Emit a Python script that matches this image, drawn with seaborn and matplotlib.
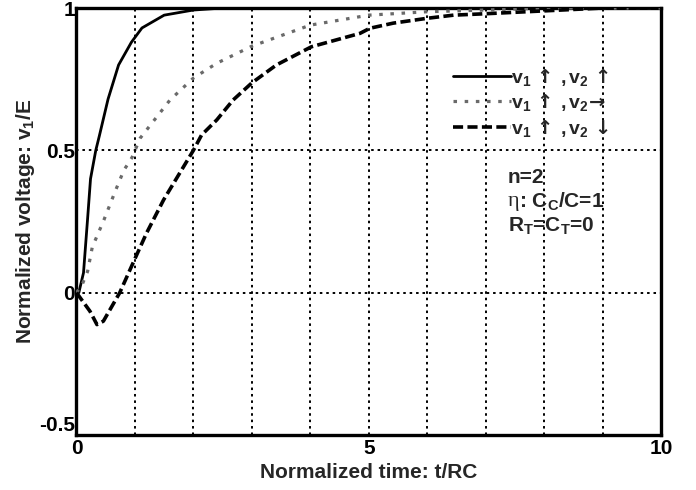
import matplotlib
matplotlib.use("Agg")
import matplotlib.pyplot as plt
from matplotlib.ticker import MultipleLocator, FixedLocator
from matplotlib.font_manager import FontProperties
import seaborn as sns
import pandas as pd

# Step responses of v1 for three polarities of v2 (n=2, Cc/C=1, RT=CT=0)
t_same = [0, 0.04, 0.12, 0.19, 0.24, 0.33, 0.39, 0.54, 0.72, 0.94, 1.12, 1.5, 2.0, 2.5, 3.0, 10]
v_same = [0, 0.0, 0.07, 0.26, 0.40, 0.50, 0.55, 0.68, 0.80, 0.88, 0.93, 0.975, 0.993, 1.0, 1.0, 1.0]

t_quiet = [0, 0.1, 0.19, 0.27, 0.47, 0.67, 0.81, 0.95, 1.09, 1.6, 2.0, 2.4, 3.0, 4.0, 5.0, 6.0, 7.0, 8.0, 10]
v_quiet = [0, 0.03, 0.075, 0.16, 0.256, 0.36, 0.43, 0.475, 0.543, 0.677, 0.754, 0.806, 0.866, 0.94,
           0.975, 0.987, 0.993, 1.0, 1.0]

t_opp = [0, 0.23, 0.35, 0.46, 0.74, 1.03, 1.2, 1.49, 2.0, 2.14, 2.4, 2.68, 3.0, 3.42, 4.02, 4.85,
         5.02, 5.42, 6.0, 6.45, 7.0, 8.0, 9.0, 10]
v_opp = [0, -0.065, -0.112, -0.1, 0.0, 0.133, 0.21, 0.326, 0.5, 0.554, 0.607, 0.677, 0.737, 0.8,
         0.864, 0.911, 0.929, 0.947, 0.964, 0.975, 0.98, 0.99, 1.0, 1.0]

# v1/v2 in math text (bold Liberation Sans), arrows from DejaVu Sans Bold
labels = ["$v_1$ \u2191 $,v_2$ \u2191",
          "$v_1$ \u2191 $,v_2$\u2192",
          "$v_1$ \u2191 $,v_2$ \u2193"]

x_ticks = [0, 5, 10]
y_ticks = [-0.5, 0, 0.5, 1]
y_ticklabels = ["-0.5", "0", "0.5", "1"]

sns.set_style("white")
plt.rcParams["font.family"] = ["Liberation Sans", "DejaVu Sans"]
plt.rcParams["font.weight"] = "bold"
plt.rcParams["mathtext.fontset"] = "custom"
plt.rcParams["mathtext.rm"] = "Liberation Sans:bold"
plt.rcParams["mathtext.it"] = "Liberation Sans:bold"
plt.rcParams["mathtext.bf"] = "Liberation Sans:bold"
plt.rcParams["mathtext.default"] = "rm"

fig = plt.figure(figsize=(6.96, 4.9), dpi=100)
ax = fig.add_axes([0.1099, 0.1122, 0.8398, 0.8714])

df_same = pd.DataFrame({"t": t_same, "v": v_same})
df_quiet = pd.DataFrame({"t": t_quiet, "v": v_quiet})
df_opp = pd.DataFrame({"t": t_opp, "v": v_opp})

sns.lineplot(data=df_same, x="t", y="v", ax=ax, color="black", lw=2.0,
             label=labels[0], zorder=5)
sns.lineplot(data=df_quiet, x="t", y="v", ax=ax, color="#6a6a6a", lw=2.3,
             label=labels[1], zorder=5)
sns.lineplot(data=df_opp, x="t", y="v", ax=ax, color="black", lw=2.6,
             label=labels[2], zorder=5)
ax.lines[1].set_dashes([1.1, 2.4])
ax.lines[2].set_dashes([2.8, 1.2])

ax.set_xlim(0, 10)
ax.set_ylim(-0.5, 1)
ax.xaxis.set_major_locator(FixedLocator(x_ticks))
ax.xaxis.set_minor_locator(MultipleLocator(1))
ax.yaxis.set_major_locator(FixedLocator(y_ticks))
ax.set_yticklabels(y_ticklabels)

grid_kw = dict(color="black", lw=1.4, linestyle=(0, (1.3, 2.0)))
ax.grid(True, which="major", axis="both", **grid_kw)
ax.grid(True, which="minor", axis="x", **grid_kw)
ax.set_axisbelow(True)

for s in ax.spines.values():
    s.set_linewidth(2.4)
    s.set_color("black")
    s.set_zorder(4)

ax.tick_params(which="major", direction="in", length=5, width=1.2, pad=1,
               labelsize=15, colors="black")
ax.tick_params(axis="x", which="major", pad=3)
ax.tick_params(which="minor", direction="in", length=3, width=1.0)
for lab in ax.get_xticklabels() + ax.get_yticklabels():
    lab.set_fontweight("bold")
# lowest y label sits just above the bottom axis line
ax.get_yticklabels()[0].set_verticalalignment("bottom")

ax.set_xlabel("Normalized time: t/RC", fontsize=15, fontweight="bold")
ax.set_ylabel("Normalized voltage: v$_1$/E", fontsize=15, fontweight="bold")
ax.xaxis.set_label_coords(0.5, -0.066)
ax.yaxis.set_label_coords(-0.068, 0.5)

leg = ax.legend(loc="upper left", bbox_to_anchor=(0.644, 0.862), frameon=False,
                handlelength=3.0, handletextpad=0.0, labelspacing=0.22,
                borderaxespad=0, borderpad=0,
                prop=FontProperties(family="DejaVu Sans", weight="bold", size=14))

ax.text(0.738, 0.603, "n=2", transform=ax.transAxes, fontsize=15,
        fontweight="bold", va="center", ha="left")
ax.text(0.738, 0.546, "\u03b7", transform=ax.transAxes, fontsize=16,
        family="Liberation Serif", fontweight="normal", va="center", ha="left")
ax.annotate(": C$_C$/C=1", xy=(0.738, 0.546), xycoords="axes fraction",
            xytext=(8, 0), textcoords="offset points", fontsize=15,
            fontweight="bold", va="center", ha="left")
ax.text(0.738, 0.488, "R$_T$=C$_T$=0", transform=ax.transAxes, fontsize=15,
        fontweight="bold", va="center", ha="left")

fig.savefig("out.png", dpi=100)
